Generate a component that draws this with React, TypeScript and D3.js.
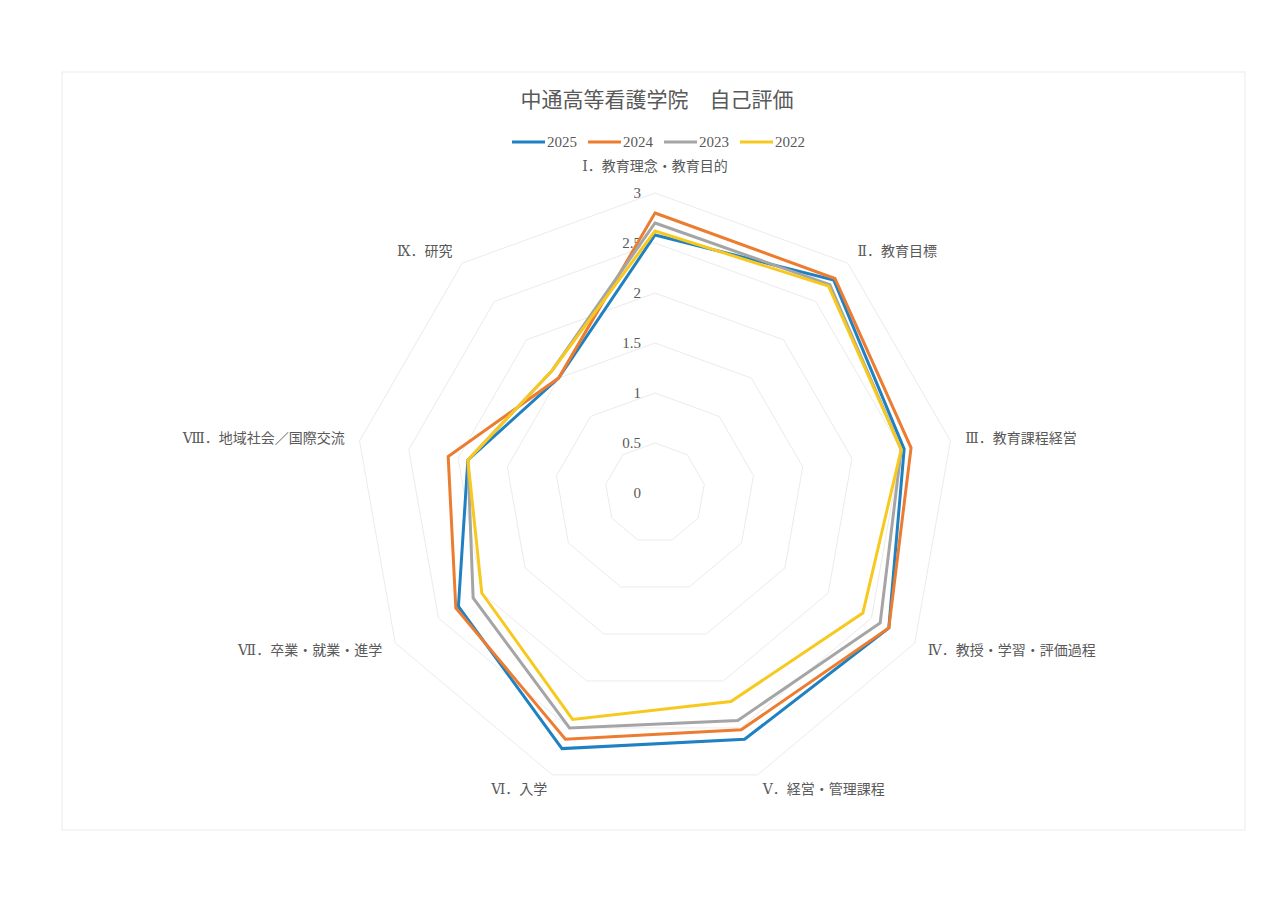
import React from "react";
import * as d3 from "d3";

const categories = [
  "Ⅰ．教育理念・教育目的",
  "Ⅱ．教育目標",
  "Ⅲ．教育課程経営",
  "Ⅳ．教授・学習・評価過程",
  "Ⅴ．経営・管理課程",
  "Ⅵ．入学",
  "Ⅶ．卒業・就業・進学",
  "Ⅷ．地域社会／国際交流",
  "Ⅸ．研究",
];

const seriesNames = ["2025", "2024", "2023", "2022"];
const values2025 = [2.58, 2.78, 2.53, 2.7, 2.62, 2.72, 2.27, 1.9, 1.5];
const values2024 = [2.8, 2.8, 2.6, 2.7, 2.52, 2.62, 2.3, 2.1, 1.5];
const values2023 = [2.7, 2.72, 2.5, 2.6, 2.42, 2.5, 2.1, 1.9, 1.6];
const values2022 = [2.62, 2.7, 2.5, 2.4, 2.22, 2.41, 2.0, 1.9, 1.6];
const seriesValues = [values2025, values2024, values2023, values2022];
const seriesColors = ["#1f80c2", "#ec7c30", "#a5a5a5", "#f7c91f"];

const ticks = [0, 0.5, 1, 1.5, 2, 2.5, 3];
const title = "中通高等看護学院　自己評価";

const FONT = "'Liberation Serif', 'DejaVu Serif', 'Noto Sans CJK JP', serif";
const TEXT = "#595959";

export default function App() {
  const W = 1280, H = 906;
  const cx = 655, cy = 493;
  const r = d3.scaleLinear().domain([0, 3]).range([0, 300]);
  const n = categories.length;
  const ang = (i: number) => (i * 2 * Math.PI) / n;
  const pt = (i: number, v: number): [number, number] => [
    cx + r(v) * Math.sin(ang(i)),
    cy - r(v) * Math.cos(ang(i)),
  ];
  const line = d3.line<[number, number]>().curve(d3.curveLinearClosed);

  const legendX = [512, 588, 664, 740];

  return (
    <svg width={W} height={H} style={{ position: "absolute", left: 0, top: 0, background: "#fff" }} fontFamily={FONT}>
      <rect x={62} y={72} width={1183} height={758} fill="#fff" stroke="#ececec" strokeWidth={1} />
      <text x={657} y={100} textAnchor="middle" dominantBaseline="central" fontSize={21} fill={TEXT}>{title}</text>
      {seriesNames.map((s, k) => (
        <g key={s}>
          <line x1={legendX[k]} x2={legendX[k] + 33} y1={142} y2={142} stroke={seriesColors[k]} strokeWidth={3} />
          <text x={legendX[k] + 35} y={142} dominantBaseline="central" fontSize={15} fill={TEXT}>{s}</text>
        </g>
      ))}
      {ticks.slice(1).map((t) => (
        <path key={t} d={line(categories.map((_, i) => pt(i, t)))!} fill="none" stroke="#ebebeb" strokeWidth={1} />
      ))}
      {ticks.map((t) => (
        <text key={"t" + t} x={641} y={cy - r(t)} textAnchor="end" dominantBaseline="central" fontSize={15} fill={TEXT}>{t}</text>
      ))}
      {seriesValues.map((vals, k) => (
        <path key={k} d={line(vals.map((v, i) => pt(i, v)))!} fill="none" stroke={seriesColors[k]} strokeWidth={3} strokeLinejoin="miter" />
      ))}
      {categories.map((c, i) => {
        const a = ang(i);
        const s = Math.sin(a);
        const rr = i === 0 ? 327 : 315;
        const x = cx + rr * s;
        const y = cy - rr * Math.cos(a);
        const anchor = Math.abs(s) < 0.01 ? "middle" : s > 0 ? "start" : "end";
        return (
          <text key={c} x={x} y={y} textAnchor={anchor} dominantBaseline="central" fontSize={14} fill={TEXT}>{c}</text>
        );
      })}
    </svg>
  );
}
